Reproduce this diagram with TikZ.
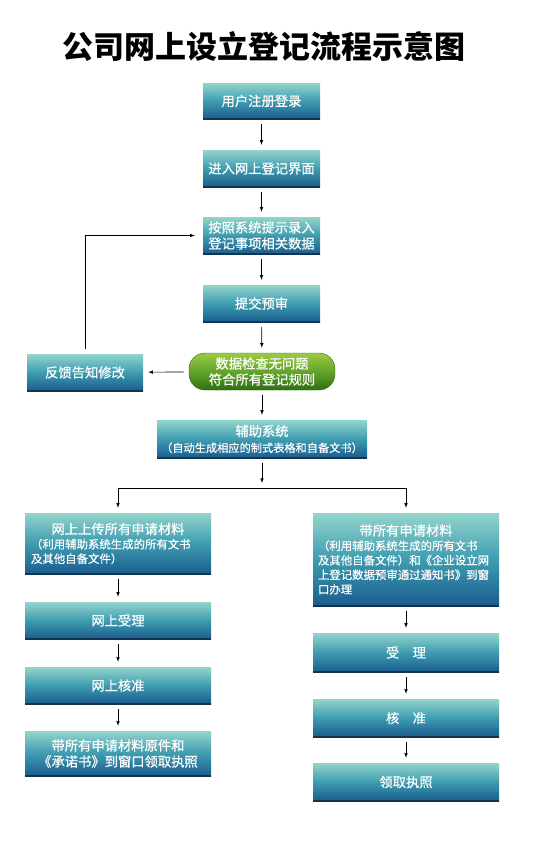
\documentclass[tikz,border=0pt]{standalone}
\usepackage{fontspec}
\newfontfamily\cjk{Noto Sans CJK SC}
\newfontfamily\cjkbox[FakeBold=0.5]{Noto Sans CJK SC}
\definecolor{boxtop}{HTML}{93D5CC}
\definecolor{boxmid}{HTML}{3E9CB0}
\definecolor{boxbot}{HTML}{1A5C8E}
\definecolor{boxedge}{HTML}{12344F}
\definecolor{greentop}{HTML}{9CCB45}
\definecolor{greenmid}{HTML}{62A52A}
\definecolor{greenbot}{HTML}{2F6E12}
\begin{document}
\begin{tikzpicture}[
  x=1pt, y=-1pt,
  stepbox/.style={rectangle, top color=boxtop, bottom color=boxbot,
    middle color=boxmid, text=white, minimum width=117pt,
    minimum height=37pt, inner sep=2pt, align=center,
    font=\cjkbox\fontsize{13.3}{16}\selectfont,
    path picture={\draw[boxedge, line width=1.8pt]
      (path picture bounding box.south west) --
      (path picture bounding box.south east);}},
  widebox/.style={stepbox, minimum width=186pt},
  checkbox/.style={rectangle, rounded corners=16pt, draw=greenbot,
    top color=greentop, bottom color=greenbot, middle color=greenmid,
    text=white, minimum width=146pt, minimum height=37pt,
    inner sep=2pt, align=center,
    font=\cjkbox\fontsize{13.3}{16}\selectfont},
  arrow/.style={->, semithick, >=latex, shorten <=5pt, shorten >=5pt},
  line/.style={semithick},
]
\useasboundingbox (0,0) rectangle (551,843);

\node[font=\cjk\bfseries\fontsize{31}{36}\selectfont] (title) at (264, 47)
  {公司网上设立登记流程示意图};

\node[stepbox, minimum height=36pt] (reg) at (261.5, 101) {用户注册登录};
\node[stepbox] (enter) at (261.5, 168.5) {进入网上登记界面};
\node[stepbox] (input) at (261.5, 235.5)
  {按照系统提示录入\\登记事项相关数据};
\node[stepbox] (submit) at (261.5, 303.5) {提交预审};
\node[checkbox] (check) at (262, 371.5)
  {数据检查无问题\\符合所有登记规则};
\node[stepbox, minimum width=116pt] (fb) at (85, 372.5) {反馈告知修改};

\draw[arrow] (reg) -- (enter);
\draw[arrow] (enter) -- (input);
\draw[arrow] (input) -- (submit);
\draw[arrow] (submit) -- (check);
\draw[arrow] (check) -- (fb);
\draw[arrow, shorten >=8pt] (fb.north) |- (input.west);

\node[stepbox, minimum width=210pt, minimum height=38pt] (aux) at (262, 439)
  {辅助系统\\
   {\fontsize{11.2}{14}\selectfont （自动生成相应的制式表格和自备文书）}};

\draw[arrow] (check) -- (aux);

\coordinate (split) at (262, 488);
\coordinate (splitl) at (118, 488);
\coordinate (splitr) at (406, 488);

\draw[arrow] (aux) -- (split);
\draw[line] (splitl) -- (splitr);

\node[widebox, minimum height=61pt, text width=174pt, align=left] (up) at (118, 543.5)
  {\centering 网上上传所有申请材料\par
   {\fontsize{11.4}{14.5}\selectfont\raggedright
    （利用辅助系统生成的所有文书\\及其他自备文件）\par}};
\node[widebox] (olacc) at (118, 620.5) {网上受理};
\node[widebox] (olapp) at (118, 685.5) {网上核准};
\node[widebox, minimum height=45pt] (olget) at (118, 753.5)
  {带所有申请材料原件和\\《承诺书》到窗口领取执照};

\draw[arrow, shorten <=0pt] (splitl) -- (up);
\draw[arrow] (up) -- (olacc);
\draw[arrow] (olacc) -- (olapp);
\draw[arrow] (olapp) -- (olget);

\node[widebox, minimum height=93pt, text width=176pt, align=left] (bring) at (406, 559.5)
  {\centering 带所有申请材料\par
   {\fontsize{11.4}{14.5}\selectfont\raggedright
    （利用辅助系统生成的所有文书\\
    及其他自备文件）和《企业设立网\\
    上登记数据预审通过通知书》到窗\\
    口办理\par}};
\node[widebox, minimum height=39pt] (acc) at (406, 652.5) {受\hspace{1em}理};
\node[widebox, minimum height=38pt] (app) at (406, 718) {核\hspace{1em}准};
\node[widebox, minimum height=38pt] (get) at (406, 782) {领取执照};

\draw[arrow, shorten <=0pt] (splitr) -- (bring);
\draw[arrow] (bring) -- (acc);
\draw[arrow] (acc) -- (app);
\draw[arrow] (app) -- (get);

\end{tikzpicture}
\end{document}
